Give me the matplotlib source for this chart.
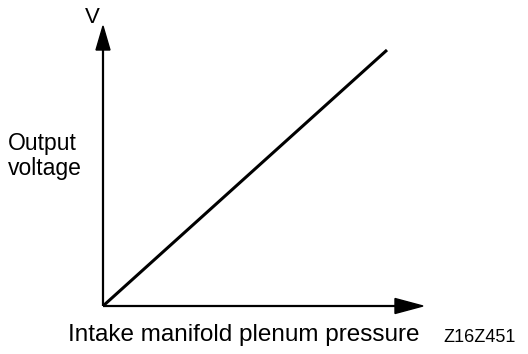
import matplotlib
matplotlib.use("Agg")
import matplotlib.pyplot as plt
from matplotlib.patches import Polygon

# Data: linear relation between intake pressure and output voltage
pressure = [0.0, 1.0]
voltage = [0.0, 1.0]
x_label = "Intake manifold plenum pressure"
y_label_lines = ["Output", "voltage"]
y_unit = "V"
fig_code = "Z16Z451"

W, H = 528, 354
plt.rcParams['font.family'] = ['Liberation Sans', 'DejaVu Sans']
fig = plt.figure(figsize=(W / 100, H / 100), dpi=100)

# origin at pixel (103, 306); line end at (387, 50)
ox, oy = 103, 306
ex, ey = 387, 50
ax = fig.add_axes([ox / W, (H - oy) / H, (ex - ox) / W, (oy - ey) / H])
ax.set_xlim(0, 1)
ax.set_ylim(0, 1)
ax.axis('off')
ax.plot(pressure, voltage, color='black', lw=2.2, solid_capstyle='butt', clip_on=False)

# axes arrows drawn in figure pixel coords
fa = fig.add_axes([0, 0, 1, 1])
fa.set_xlim(0, W)
fa.set_ylim(H, 0)
fa.axis('off')
fa.patch.set_alpha(0)
fa.plot([ox, ox], [oy, 48], color='black', lw=1.6, solid_capstyle='butt')
fa.add_patch(Polygon([[ox - 7, 50], [ox + 7, 50], [ox, 26]], closed=True, color='black'))
fa.plot([ox, 397], [oy, oy], color='black', lw=1.6, solid_capstyle='butt')
fa.add_patch(Polygon([[395, oy - 7.5], [395, oy + 7.5], [423, oy]], closed=True, color='black'))

fa.text(92, 23, y_unit, fontsize=16, ha='center', va='baseline')
for i, line in enumerate(y_label_lines):
    fa.text(8, 150 + 25 * i, line, fontsize=16.5, ha='left', va='baseline')
fa.text(68, 341.5, x_label, fontsize=17.5, ha='left', va='baseline')
fa.text(443, 342, fig_code, fontsize=13, ha='left', va='baseline')

fig.savefig('out.png', dpi=100)
